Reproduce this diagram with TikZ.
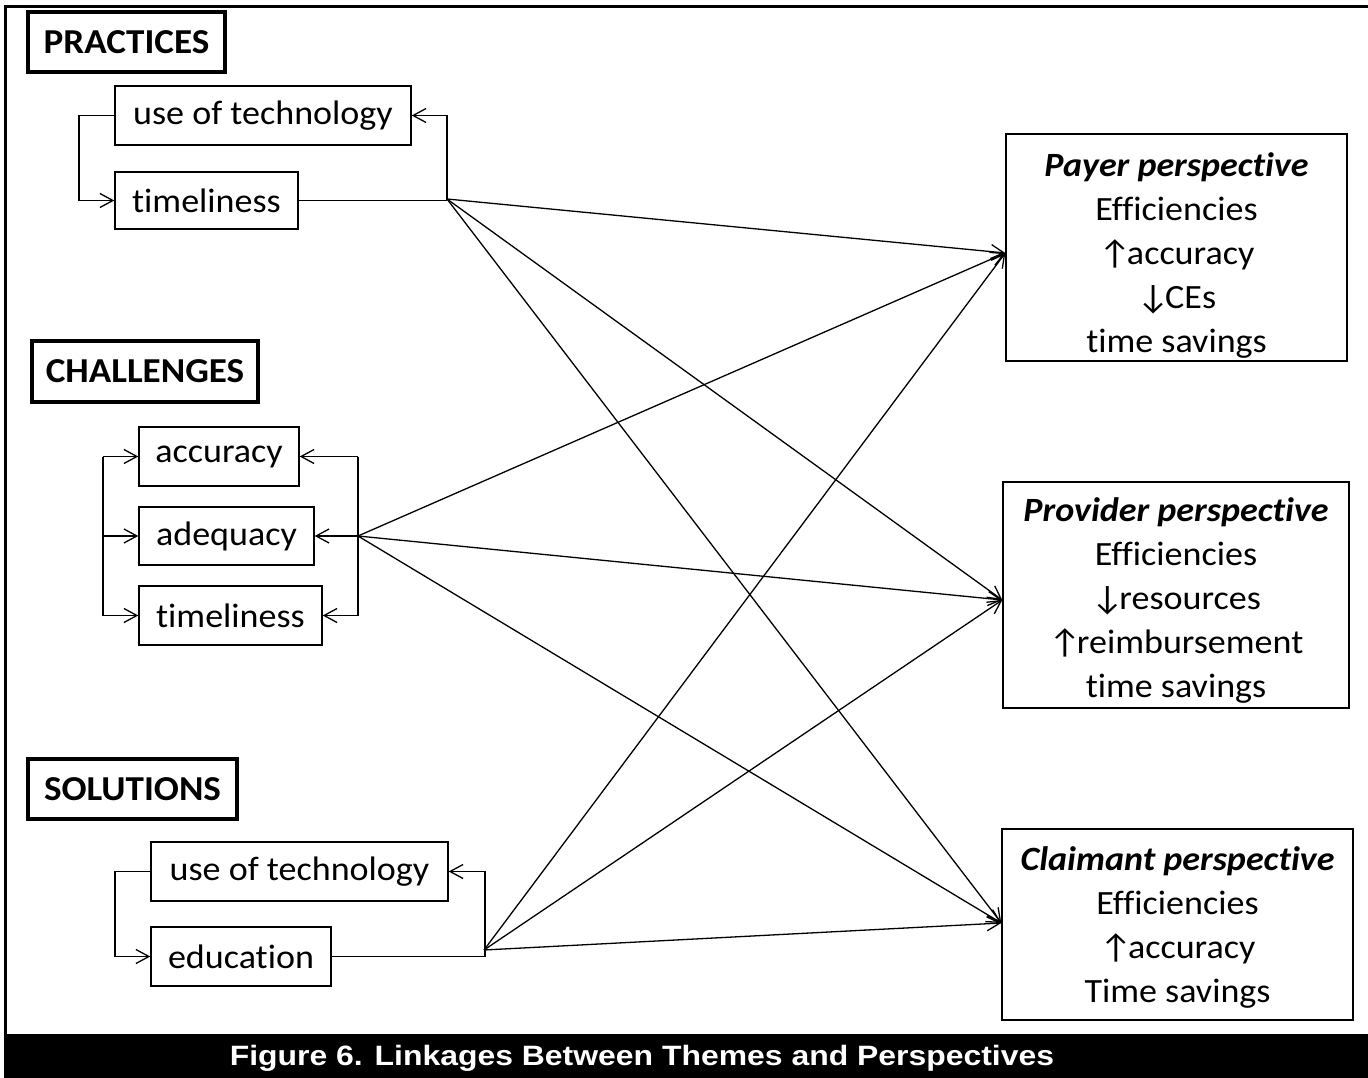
\documentclass[tikz,border=0pt]{standalone}
\usepackage{fontspec}
\setmainfont[Ligatures=NoCommon]{Carlito}
\newfontfamily\capfont{Liberation Sans}
\usepackage{graphicx}
\usetikzlibrary{arrows.meta,calc}
\newcommand{\sx}[1]{\scalebox{1.06}[1]{#1}}
\newcommand{\capsx}[1]{\scalebox{1.14}[1]{#1}}
\newcommand{\upar}{↑\kern-0.12em}
\newcommand{\dnar}{↓\kern-0.12em}
\begin{document}
\begin{tikzpicture}[x=1pt,y=-1pt,
  box/.style={draw, line width=1.4pt, inner sep=0pt, font=\fontsize{34}{40}\selectfont},
  catbox/.style={draw, line width=3.5pt, inner sep=0pt, font=\fontsize{35}{40}\selectfont\bfseries},
  persp/.style={draw, line width=1.4pt, inner sep=0pt},
  ptext/.style={inner sep=0pt, align=center, font=\fontsize{34}{44}\selectfont},
  conn/.style={line width=1.3pt},
  arr/.style={line width=1.3pt, -{Straight Barb[length=13pt,width=14pt,line width=1.3pt]}}]
\useasboundingbox (0,0) rectangle (1368,1078);
\fill[white] (0,0) rectangle (1368,1078);
% frame and caption bar
\draw[line width=3pt] (5,1034) -- (5,7) -- (1368,7);
\fill[black] (4,1034) rectangle (1368,1078);
\node[text=white, font=\fontsize{28}{32}\capfont\bfseries] (cap) at (642,1058.5) {\capsx{Figure 6. Linkages Between Themes and Perspectives}};
% category boxes
\node[catbox, minimum width=197pt, minimum height=60pt] (prac) at (126.5,42) {\sx{PRACTICES}};
\node[catbox, minimum width=226pt, minimum height=61pt] (chal) at (145,371.5) {\sx{CHALLENGES}};
\node[catbox, minimum width=209pt, minimum height=60pt] (sol) at (132.5,789) {\sx{SOLUTIONS}};
% practices
\node[box, minimum width=296pt, minimum height=59pt] (p1) at (263,115.5) {\sx{use of technology}};
\node[box, minimum width=183pt, minimum height=57pt] (p2) at (206.5,200.5) {\sx{timeliness}};
% challenges
\node[box, minimum width=160pt, minimum height=59pt] (c1) at (219,456.5) {\sx{accuracy}};
\node[box, minimum width=175pt, minimum height=58pt] (c2) at (226.5,536) {\sx{adequacy}};
\node[box, minimum width=183pt, minimum height=59pt] (c3) at (230.5,615.5) {\sx{timeliness}};
% solutions
\node[box, minimum width=297pt, minimum height=59pt] (s1) at (299.5,871.5) {\sx{use of technology}};
\node[box, minimum width=180pt, minimum height=59pt] (s2) at (241,956.5) {\sx{education}};
% perspectives
\node[persp, minimum width=341pt, minimum height=227pt] (payer) at (1176.5,247.5) {};
\node[persp, minimum width=346pt, minimum height=226pt] (prov) at (1176,595) {};
\node[persp, minimum width=351pt, minimum height=191pt] (claim) at (1177.5,924.5) {};
\node[ptext] (payerT) at ([yshift=-8pt]payer.center)
  {\sx{\textbf{\textit{Payer perspective}}}\\ \sx{Efficiencies}\\ \sx{\upar accuracy}\\ \sx{\dnar CEs}\\ \sx{time savings}};
\node[ptext] (provT) at ([yshift=-5pt]prov.center)
  {\sx{\textbf{\textit{Provider perspective}}}\\ \sx{Efficiencies}\\ \sx{\dnar resources}\\ \sx{\upar reimbursement}\\ \sx{time savings}};
\node[ptext] (claimT) at ([yshift=-3pt]claim.center)
  {\sx{\textbf{\textit{Claimant perspective}}}\\ \sx{Efficiencies}\\ \sx{\upar accuracy}\\ \sx{Time savings}};
% entry points on perspective boxes
\coordinate (payIn) at ([yshift=-5.5pt]payer.west);
\coordinate (provIn) at ([yshift=-5pt]prov.west);
\coordinate (claimIn) at ([yshift=1.5pt]claim.west);
% practices loops
\coordinate (pL) at (79,115.5);
\coordinate (pR) at (447,200.5);
\coordinate (pJ) at (447,199);
\draw[arr] (p1.west) -- (pL) |- (p2.west);
\draw[conn] (p2.east) -- (pR);
\draw[arr] (pR) |- (p1.east);
% challenges brackets
\coordinate (cLt) at (103,456.5);
\coordinate (cLm) at (103,536);
\coordinate (cLb) at (103,615.5);
\coordinate (cRt) at (358,456.5);
\coordinate (cJ) at (358,536);
\coordinate (cRb) at (358,615.5);
\draw[conn] (cLt) -- (cLb);
\draw[arr] (cLt) -- (c1.west);
\draw[arr] (cLm) -- (c2.west);
\draw[arr] (cLb) -- (c3.west);
\draw[conn] (cRt) -- (cRb);
\draw[arr] (cRt) -- (c1.east);
\draw[arr] (cJ) -- (c2.east);
\draw[arr] (cRb) -- (c3.east);
% solutions loops
\coordinate (sL) at (115,871.5);
\coordinate (sR) at (485,956.5);
\coordinate (sJ) at (484,950);
\draw[arr] (s1.west) -- (sL) |- (s2.west);
\draw[conn] (s2.east) -- (sR);
\draw[arr] (sR) |- (s1.east);
% linkages
\foreach \src in {pJ,cJ,sJ}{
  \draw[arr] (\src) -- (payIn);
  \draw[arr] (\src) -- (provIn);
  \draw[arr] (\src) -- (claimIn);
}
\end{tikzpicture}
\end{document}
